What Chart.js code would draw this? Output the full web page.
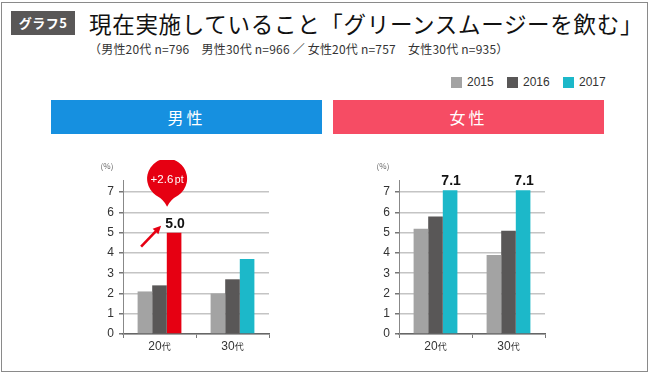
<!DOCTYPE html>
<html>
<head>
<meta charset="utf-8">
<script src="https://cdn.jsdelivr.net/npm/chart.js@4.4.1/dist/chart.umd.min.js"></script>
<style>
  body { margin: 0; width: 650px; height: 375px; background: #fff; position: relative; overflow: hidden; font-family: "Noto Sans CJK JP", sans-serif; }
  .frame { position: absolute; left: 1px; top: 2px; width: 645px; height: 368px; border: 1.5px solid #8a8a8a; }
  .tag { position: absolute; left: 11px; top: 11px; width: 64px; height: 24px; background: #595757; color: #fff; font-size: 13px; font-weight: bold; line-height: 24px; text-align: center; letter-spacing: 0.5px; }
  .title { position: absolute; left: 89px; top: 7px; font-size: 22.5px; line-height: 32px; color: #111; white-space: nowrap; letter-spacing: 0.7px; }
  .sub { position: absolute; left: 89px; top: 41px; font-size: 12px; line-height: 16px; color: #333; white-space: nowrap; letter-spacing: 0.2px; }
  .legend { position: absolute; top: 75px; font-family: "Liberation Sans", sans-serif; font-size: 12px; color: #333; line-height: 14px; }
  .legend i { position: absolute; left: -16px; top: 2px; width: 11px; height: 11px; }
  .banner { position: absolute; top: 100px; width: 271px; height: 34px; color: #fff; font-size: 16px; line-height: 34px; text-align: center; letter-spacing: 3px; }
  canvas { position: absolute; }
</style>
</head>
<body>
<div class="frame"></div>
<div class="tag">グラフ5</div>
<div class="title">現在実施していること「グリーンスムージーを飲む」</div>
<div class="sub">（男性20代 n=796　男性30代 n=966 ／ 女性20代 n=757　女性30代 n=935）</div>
<div id="legend"></div>
<div class="banner" style="left:51px;background:#1690e0;">男性</div>
<div class="banner" style="left:333px;background:#f64c64;">女性</div>
<canvas id="male" width="230" height="200" style="left:60px;top:160px;"></canvas>
<canvas id="female" width="230" height="200" style="left:336px;top:160px;"></canvas>
<script>
const categories = ['20', '30'];
const years = ['2015', '2016', '2017'];
const yearColors = ['#a3a3a3', '#595757', '#1cb8c9'];
const highlightRed = '#e60012';

const male2015 = [2.1, 2.0];
const male2016 = [2.4, 2.7];
const male2017 = [5.0, 3.7];
const female2015 = [5.2, 3.9];
const female2016 = [5.8, 5.1];
const female2017 = [7.1, 7.1];

const yTicks = [0, 1, 2, 3, 4, 5, 6, 7];
const yMax = 7.6;

// legend
const legendX = [467, 523, 579];
document.getElementById('legend').innerHTML = years.map((y, i) =>
    `<div class="legend" style="left:${legendX[i]}px"><i style="background:${yearColors[i]}"></i>${y}</div>`
).join('');

const annotate = {
    id: 'annotate',
    afterDraw(chart, args, opts) {
        const ctx = chart.ctx;
        const x = chart.scales.x;
        const y = chart.scales.y;
        ctx.save();

        ctx.fillStyle = '#666';
        ctx.font = '8px "Noto Sans CJK JP"';
        ctx.textAlign = 'center';
        ctx.textBaseline = 'alphabetic';
        ctx.fillText('(%)', x.left - 16, y.top - 11);

        // category labels: number + smaller 代
        ctx.fillStyle = '#333';
        categories.forEach((c, i) => {
            const px = x.getPixelForValue(i);
            ctx.font = '12px "Liberation Sans"';
            const w1 = ctx.measureText(c).width;
            ctx.font = '9px "Noto Sans CJK JP"';
            const w2 = ctx.measureText('代').width;
            const start = px - (w1 + w2) / 2;
            ctx.textAlign = 'left';
            ctx.font = '12px "Liberation Sans"';
            ctx.fillText(c, start, y.bottom + 16);
            ctx.font = '9px "Noto Sans CJK JP"';
            ctx.fillText('代', start + w1, y.bottom + 16);
        });

        // value labels on 2017 bars
        const meta = chart.getDatasetMeta(2);
        ctx.fillStyle = '#111';
        ctx.textAlign = 'center';
        ctx.font = 'bold 14px "Liberation Sans"';
        (opts.labels || []).forEach(i => {
            const bar = meta.data[i];
            const v = chart.data.datasets[2].data[i];
            ctx.fillText(v.toFixed(1), bar.x + 1, bar.y - 5);
        });

        if (opts.bubble !== undefined) {
            const i = opts.bubble;
            const bar = meta.data[i];
            const delta = chart.data.datasets[2].data[i] - chart.data.datasets[1].data[i];

            // arrow
            const x0 = bar.x - 33, y0 = bar.y + 14;
            const x1 = bar.x - 13, y1 = bar.y - 7;
            const ang = Math.atan2(y1 - y0, x1 - x0);
            ctx.strokeStyle = highlightRed;
            ctx.fillStyle = highlightRed;
            ctx.lineWidth = 2.6;
            ctx.beginPath();
            ctx.moveTo(x0, y0);
            ctx.lineTo(x1 - 4 * Math.cos(ang), y1 - 4 * Math.sin(ang));
            ctx.stroke();
            ctx.beginPath();
            ctx.moveTo(x1, y1);
            ctx.lineTo(x1 - 9 * Math.cos(ang - 0.45), y1 - 9 * Math.sin(ang - 0.45));
            ctx.lineTo(x1 - 9 * Math.cos(ang + 0.45), y1 - 9 * Math.sin(ang + 0.45));
            ctx.closePath();
            ctx.fill();

            // teardrop bubble
            const cx = bar.x - 7;
            const cy = bar.y - 54;
            const r = 20;
            const tip = bar.y - 26;
            const a = 0.6;
            ctx.beginPath();
            ctx.arc(cx, cy, r, Math.PI / 2 + a, Math.PI * 2.5 - a);
            ctx.quadraticCurveTo(cx + 3, cy + r + 1, cx, tip);
            ctx.quadraticCurveTo(cx - 3, cy + r + 1, cx + r * Math.cos(Math.PI / 2 + a), cy + r * Math.sin(Math.PI / 2 + a));
            ctx.closePath();
            ctx.fill();

            ctx.fillStyle = '#fff';
            ctx.textAlign = 'left';
            const t1 = '+' + delta.toFixed(1);
            const t2 = 'pt';
            ctx.font = '11.5px "Liberation Sans"';
            const w1 = ctx.measureText(t1).width;
            ctx.font = '10.5px "Liberation Sans"';
            const w2 = ctx.measureText(t2).width;
            const sx = cx - (w1 + w2 + 1.5) / 2;
            ctx.font = '11.5px "Liberation Sans"';
            ctx.fillText(t1, sx, cy + 4);
            ctx.font = '10.5px "Liberation Sans"';
            ctx.fillText(t2, sx + w1 + 1.5, cy + 4);
        }
        ctx.restore();
    }
};

function makeChart(id, s2015, s2016, s2017, colors2017, opts) {
    return new Chart(document.getElementById(id), {
        type: 'bar',
        data: {
            labels: categories,
            datasets: [
                { label: years[0], data: s2015, backgroundColor: yearColors[0] },
                { label: years[1], data: s2016, backgroundColor: yearColors[1] },
                { label: years[2], data: s2017, backgroundColor: colors2017 }
            ]
        },
        options: {
            responsive: false,
            animation: false,
            devicePixelRatio: 1,
            layout: { padding: { top: 20, right: 21, left: 0, bottom: 0 } },
            datasets: { bar: { categoryPercentage: 0.6, barPercentage: 1, borderWidth: 0 } },
            scales: {
                x: {
                    ticks: { display: false },
                    grid: { offset: true, drawOnChartArea: false, tickLength: 4, color: '#777' },
                    border: { color: '#666', width: 1.5 },
                    afterFit: (s) => { s.height = 26; }
                },
                y: {
                    min: 0,
                    max: yMax,
                    ticks: { color: '#333', font: { family: 'Liberation Sans', size: 12 }, padding: 5 },
                    afterBuildTicks: (s) => { s.ticks = yTicks.map(v => ({ value: v })); },
                    grid: { color: '#c4c4c4', lineWidth: 1.5, tickLength: 4, tickColor: '#777' },
                    border: { color: '#888', width: 1 },
                    afterFit: (s) => { s.width = 63; }
                }
            },
            plugins: {
                legend: { display: false },
                tooltip: { enabled: false },
                annotate: opts
            }
        },
        plugins: [annotate]
    });
}

makeChart('male', male2015, male2016, male2017, [highlightRed, yearColors[2]], { labels: [0], bubble: 0 });
makeChart('female', female2015, female2016, female2017, yearColors[2], { labels: [0, 1] });
</script>
</body>
</html>
